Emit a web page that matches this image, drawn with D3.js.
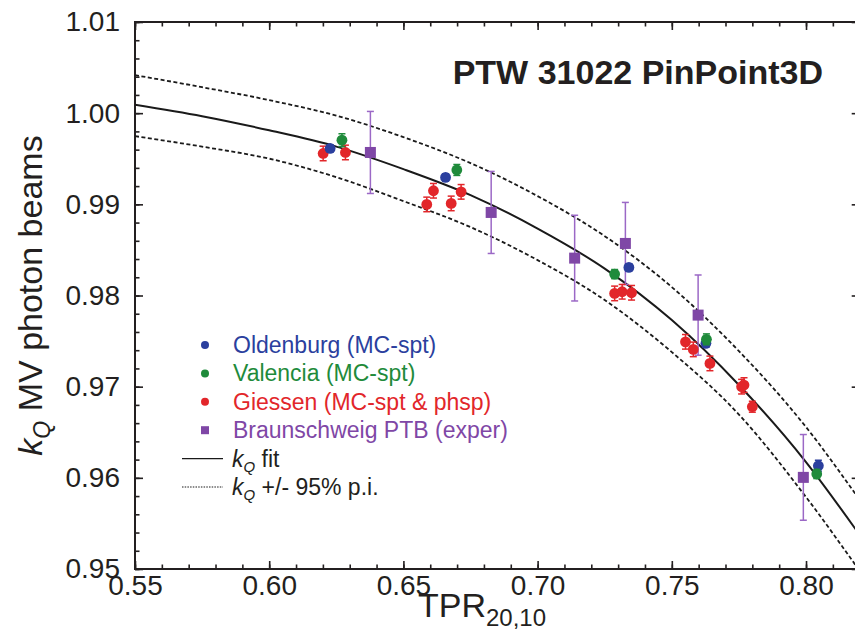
<!DOCTYPE html>
<html>
<head>
<meta charset="utf-8">
<script src="https://cdn.jsdelivr.net/npm/d3@7"></script>
<style>
  body { margin: 0; background: #fff; }
  svg { font-family: "Liberation Sans", Arial, sans-serif; }
</style>
</head>
<body>
<svg id="drawing_region"></svg>
<script>
// data
const oldenburgX = [0.6227, 0.6657, 0.7340, 0.7627, 0.8046];
const oldenburgY = [0.99613, 0.99295, 0.98308, 0.97475, 0.96133];
const oldenburgErr = [0.0004, 0.0004, 0.0004, 0.0004, 0.0006];

const valenciaX = [0.6271, 0.6699, 0.7287, 0.7629, 0.8040];
const valenciaY = [0.99704, 0.99377, 0.98235, 0.97519, 0.96042];
const valenciaErr = [0.0007, 0.0006, 0.0005, 0.0006, 0.0005];

const giessenX = [0.6201, 0.6284, 0.6587, 0.6612, 0.6678, 0.6715, 0.7287, 0.7315, 0.7350,
                  0.7551, 0.7580, 0.7642, 0.7760, 0.7769, 0.7800];
const giessenY = [0.99558, 0.99569, 0.98999, 0.99149, 0.99010, 0.99137, 0.98023, 0.98041, 0.98030,
                  0.97492, 0.97409, 0.97255, 0.97000, 0.97018, 0.96780];
const giessenErr = [0.0008, 0.0008, 0.0008, 0.0008, 0.0008, 0.0008, 0.0008, 0.0008, 0.0008,
                    0.0008, 0.0008, 0.0008, 0.0008, 0.0008, 0.0006];

const ptbX = [0.6377, 0.6827, 0.7138, 0.7327, 0.7598, 0.7990];
const ptbY = [0.99569, 0.98911, 0.98410, 0.98571, 0.97785, 0.96005];
const ptbErr = [0.0045, 0.0045, 0.0047, 0.0045, 0.0044, 0.0047];

// fit and 95% prediction interval
const curveX = [0.55, 0.575, 0.60, 0.625, 0.65, 0.675, 0.70, 0.725, 0.75, 0.775, 0.80, 0.82];
const fitY   = [1.00093, 0.99967, 0.99812, 0.99633, 0.99386, 0.99101, 0.98734, 0.98295, 0.97730, 0.97018, 0.96173, 0.95373];
const upperY = [1.00417, 1.00285, 1.00143, 0.99973, 0.99737, 0.99452, 0.99090, 0.98651, 0.98092, 0.97390, 0.96557, 0.95757];
const lowerY = [0.99748, 0.99633, 0.99501, 0.99298, 0.99035, 0.98750, 0.98388, 0.97950, 0.97379, 0.96694, 0.95789, 0.94978];

const xMajorTicks = [0.55, 0.60, 0.65, 0.70, 0.75, 0.80];
const yMajorTicks = [0.95, 0.96, 0.97, 0.98, 0.99, 1.00, 1.01];

const legendLabels = ["Oldenburg (MC-spt)", "Valencia (MC-spt)", "Giessen (MC-spt & phsp)", "Braunschweig PTB (exper)"];
const colors = { blue: "#2b3f9e", green: "#1f8b3b", red: "#e2262a", purple: "#7f47a6", purpleBar: "#9b68c6" };

const config = {
    width: 855,
    height: 636,
    margin: { top: 22, left: 135, bottom: 67 },
    plotRight: 859.7
};

const svg = d3.select('#drawing_region')
    .attr('width', config.width)
    .attr('height', config.height);

const inner_height = config.height - config.margin.top - config.margin.bottom;
const inner_width = config.plotRight - config.margin.left;

const chart = svg.append('g')
    .attr('transform', `translate(${config.margin.left}, ${config.margin.top})`);

const xscale = d3.scaleLinear().domain([0.55, 0.82]).range([0, inner_width]);
const yscale = d3.scaleLinear().domain([0.95, 1.01]).range([inner_height, 0]);

chart.append('clipPath').attr('id', 'clip')
    .append('rect').attr('width', inner_width).attr('height', inner_height);

// axes, ticks pointing inward on all four sides
const xMinor = d3.range(55, 83).map(d => d / 100);
const yMinor = d3.range(475, 506).map(d => d / 500);
const fmt = d3.format('.2f');

function styleAxis(g) {
    g.select('.domain').remove();
    g.selectAll('line').attr('stroke', '#231f20').attr('stroke-width', 1.6);
    g.selectAll('text').attr('fill', '#231f20').attr('font-size', '28px');
}

chart.append('g').attr('transform', `translate(0, ${inner_height})`)
    .call(d3.axisBottom(xscale).tickValues(xMinor).tickSize(-4.5).tickFormat(''))
    .call(styleAxis);
chart.append('g').attr('transform', `translate(0, ${inner_height})`)
    .call(d3.axisBottom(xscale).tickValues(xMajorTicks).tickSize(-8).tickPadding(6).tickFormat(fmt))
    .call(styleAxis);
chart.append('g')
    .call(d3.axisTop(xscale).tickValues(xMinor).tickSize(-4.5).tickFormat(''))
    .call(styleAxis);
chart.append('g')
    .call(d3.axisTop(xscale).tickValues(xMajorTicks).tickSize(-8).tickFormat(''))
    .call(styleAxis);

chart.append('g')
    .call(d3.axisLeft(yscale).tickValues(yMinor).tickSize(-4.5).tickFormat(''))
    .call(styleAxis);
chart.append('g')
    .call(d3.axisLeft(yscale).tickValues(yMajorTicks).tickSize(-8).tickPadding(15).tickFormat(fmt))
    .call(styleAxis);
chart.append('g').attr('transform', `translate(${inner_width}, 0)`)
    .call(d3.axisRight(yscale).tickValues(yMinor).tickSize(-4.5).tickFormat(''))
    .call(styleAxis);
chart.append('g').attr('transform', `translate(${inner_width}, 0)`)
    .call(d3.axisRight(yscale).tickValues(yMajorTicks).tickSize(-8).tickFormat(''))
    .call(styleAxis);

chart.append('rect')
    .attr('width', inner_width).attr('height', inner_height)
    .attr('fill', 'none').attr('stroke', '#231f20').attr('stroke-width', 2);

// curves
const line = d3.line()
    .x((d, i) => xscale(curveX[i]))
    .y(d => yscale(d))
    .curve(d3.curveMonotoneX);

const curves = chart.append('g').attr('clip-path', 'url(#clip)');
curves.append('path').attr('d', line(upperY))
    .attr('fill', 'none').attr('stroke', '#1a1a1a').attr('stroke-width', 1.8).attr('stroke-dasharray', '4,2.5');
curves.append('path').attr('d', line(lowerY))
    .attr('fill', 'none').attr('stroke', '#1a1a1a').attr('stroke-width', 1.8).attr('stroke-dasharray', '4,2.5');
curves.append('path').attr('d', line(fitY))
    .attr('fill', 'none').attr('stroke', '#1a1a1a').attr('stroke-width', 2);

// points with error bars
function drawSeries(xs, ys, errs, color, barColor, shape) {
    const data = xs.map((x, i) => ({ x: x, y: ys[i], e: errs[i] }));
    const g = chart.append('g');
    const bars = g.selectAll('g.bar').data(data).enter().append('g')
        .attr('stroke', barColor).attr('stroke-width', 1.5);
    bars.append('line')
        .attr('x1', d => xscale(d.x)).attr('x2', d => xscale(d.x))
        .attr('y1', d => yscale(d.y - d.e)).attr('y2', d => yscale(d.y + d.e));
    [-1, 1].forEach(s => {
        bars.append('line')
            .attr('x1', d => xscale(d.x) - 3.5).attr('x2', d => xscale(d.x) + 3.5)
            .attr('y1', d => yscale(d.y + s * d.e)).attr('y2', d => yscale(d.y + s * d.e));
    });
    if (shape === 'square') {
        g.selectAll('rect').data(data).enter().append('rect')
            .attr('x', d => xscale(d.x) - 5.5).attr('y', d => yscale(d.y) - 5.5)
            .attr('width', 11).attr('height', 11).attr('fill', color);
    } else {
        g.selectAll('circle').data(data).enter().append('circle')
            .attr('cx', d => xscale(d.x)).attr('cy', d => yscale(d.y))
            .attr('r', 5.4).attr('fill', color);
    }
}

drawSeries(ptbX, ptbY, ptbErr, colors.purple, colors.purpleBar, 'square');
drawSeries(giessenX, giessenY, giessenErr, colors.red, colors.red, 'circle');
drawSeries(oldenburgX, oldenburgY, oldenburgErr, colors.blue, colors.blue, 'circle');
drawSeries(valenciaX, valenciaY, valenciaErr, colors.green, colors.green, 'circle');

// title
svg.append('text')
    .attr('x', 823).attr('y', 84)
    .attr('text-anchor', 'end')
    .attr('font-size', '34px').attr('font-weight', 'bold').attr('fill', '#231f20')
    .text('PTW 31022 PinPoint3D');

// legend
const legendColors = [colors.blue, colors.green, colors.red, colors.purple];
const legend = svg.append('g');
legendLabels.forEach((label, i) => {
    const y = 345 + i * 28.4;
    if (i < 3) {
        legend.append('circle').attr('cx', 205).attr('cy', y).attr('r', 4).attr('fill', legendColors[i]);
    } else {
        legend.append('rect').attr('x', 201).attr('y', y - 4).attr('width', 8).attr('height', 8).attr('fill', legendColors[i]);
    }
    legend.append('text').attr('x', 233).attr('y', y + 8)
        .attr('font-size', '23px').attr('fill', legendColors[i]).text(label);
});

const fitRowY = 345 + 4 * 28.4;
legend.append('line').attr('x1', 182).attr('x2', 223).attr('y1', fitRowY).attr('y2', fitRowY)
    .attr('stroke', '#1a1a1a').attr('stroke-width', 1.3);
const fitText = legend.append('text').attr('x', 232).attr('y', fitRowY + 8)
    .attr('font-size', '23px').attr('fill', '#231f20');
fitText.append('tspan').attr('font-style', 'italic').text('k');
fitText.append('tspan').attr('font-style', 'italic').attr('font-size', '15px').attr('dy', 5).text('Q');
fitText.append('tspan').attr('dy', -5).text(' fit');

const piRowY = 345 + 5 * 28.4;
legend.append('line').attr('x1', 182).attr('x2', 223).attr('y1', piRowY).attr('y2', piRowY)
    .attr('stroke', '#1a1a1a').attr('stroke-width', 1.1).attr('stroke-dasharray', '1.5,1.2');
const piText = legend.append('text').attr('x', 232).attr('y', piRowY + 8)
    .attr('font-size', '23px').attr('fill', '#231f20');
piText.append('tspan').attr('font-style', 'italic').text('k');
piText.append('tspan').attr('font-style', 'italic').attr('font-size', '15px').attr('dy', 5).text('Q');
piText.append('tspan').attr('dy', -5).text(' +/- 95% p.i.');

// axis titles
const xlabel = svg.append('text')
    .attr('x', 482).attr('y', 617)
    .attr('text-anchor', 'middle')
    .attr('font-size', '34px').attr('fill', '#231f20');
xlabel.append('tspan').text('TPR');
xlabel.append('tspan').attr('font-size', '24px').attr('dy', 9).text('20,10');

const ylabel = svg.append('text')
    .attr('transform', `translate(42, ${config.margin.top + inner_height / 2}) rotate(-90)`)
    .attr('text-anchor', 'middle')
    .attr('font-size', '34px').attr('fill', '#231f20');
ylabel.append('tspan').attr('font-style', 'italic').text('k');
ylabel.append('tspan').attr('font-style', 'italic').attr('font-size', '23px').attr('dy', 8).text('Q');
ylabel.append('tspan').attr('dy', -8).text(' MV photon beams');
</script>
</body>
</html>
